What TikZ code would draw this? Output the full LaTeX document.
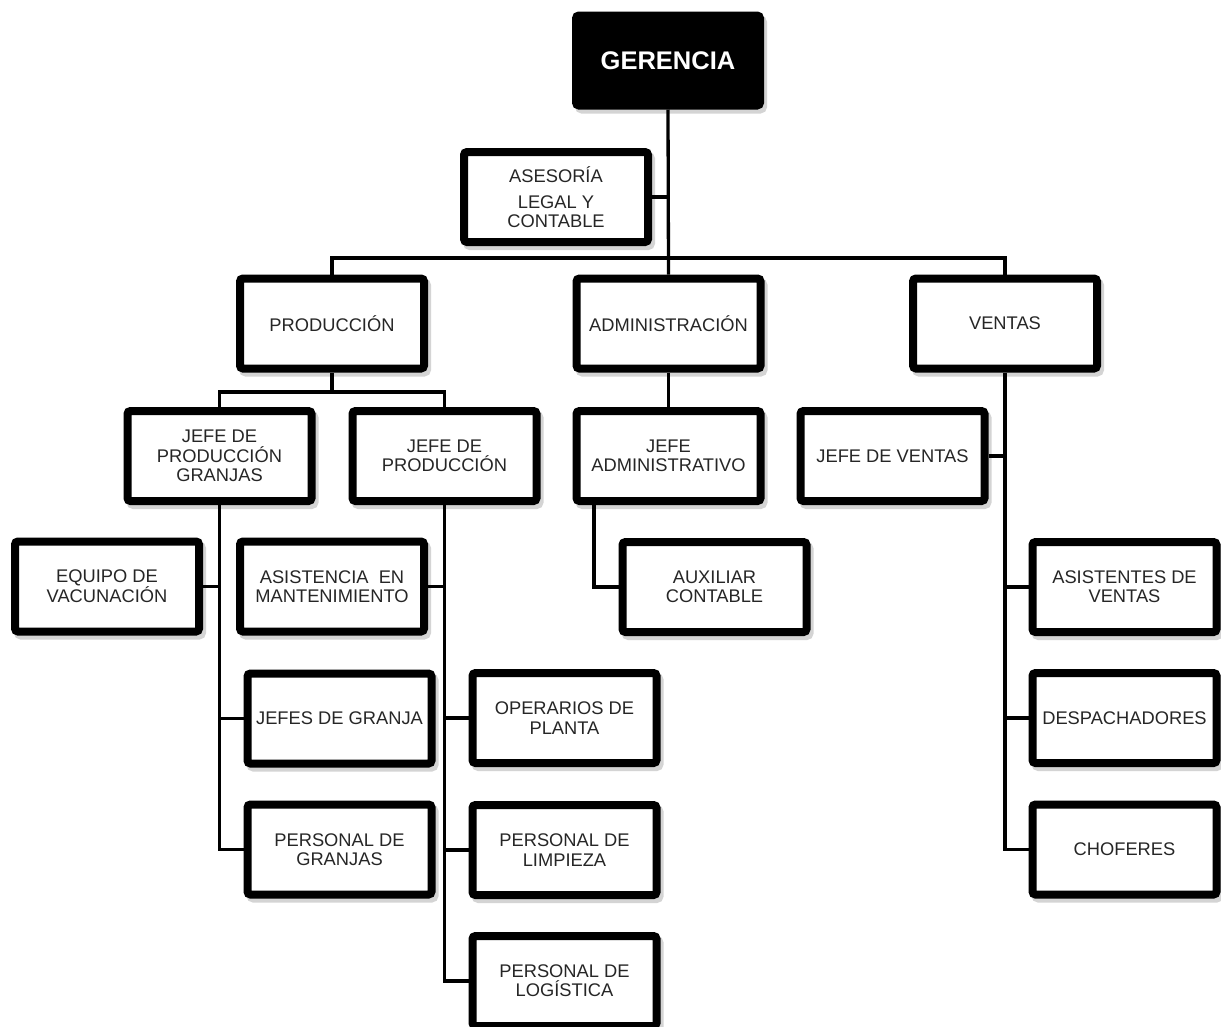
\documentclass[tikz,border=0pt]{standalone}
\usepackage{fontspec}
\setmainfont{Liberation Sans}
\usetikzlibrary{shadows}
\definecolor{txt}{gray}{0.15}
\tikzset{
  unit/.style={draw=black, fill=white, line width=8pt, rounded corners=3pt,
    minimum width=184pt, minimum height=90pt, inner sep=0pt, align=center,
    text=txt, font=\fontsize{18.3}{19.3}\selectfont,
    drop shadow={shadow xshift=3pt, shadow yshift=-4pt, opacity=1,
      fill=black!17, draw=black!17}},
  head/.style={unit, fill=black, text=white,
    font=\bfseries\fontsize{25.5}{28}\selectfont},
  link/.style={line width=3.3pt},
}
\begin{document}
\begin{tikzpicture}[x=1pt, y=-1pt]
\useasboundingbox[fill=white] (0,0) rectangle (1221,1026);

% top level
\node[head] (ger) at (668,60.5) {GERENCIA};
\node[unit] (ase) at (556,197) {ASESORÍA\\[7pt]LEGAL Y\\CONTABLE};

% departments
\node[unit] (prod) at (332,323.5) {PRODUCCIÓN};
\node[unit] (adm)  at (668.5,323.5) {ADMINISTRACIÓN};
\node[unit] (ven)  at (1005,323.5) {VENTAS};

% heads of area
\node[unit] (jpg) at (219.5,456) {JEFE DE\\PRODUCCIÓN\\GRANJAS};
\node[unit] (jp)  at (444.5,456) {JEFE DE\\PRODUCCIÓN};
\node[unit] (ja)  at (668.5,456) {JEFE\\ADMINISTRATIVO};
\node[unit] (jv)  at (892.5,456) {JEFE DE VENTAS};

% staff
\node[unit] (eq)   at (107,586.5)   {EQUIPO DE\\VACUNACIÓN};
\node[unit] (asis) at (332,586.5)   {ASISTENCIA\ \ EN\\MANTENIMIENTO};
\node[unit] (aux)  at (714.5,587)   {AUXILIAR\\CONTABLE};
\node[unit] (asv)  at (1124.5,587)  {ASISTENTES DE\\VENTAS};
\node[unit] (jg)   at (339.5,718.5) {JEFES DE GRANJA};
\node[unit] (pg)   at (339.5,849.5) {PERSONAL DE\\GRANJAS};
\node[unit] (op)   at (564.5,718)   {OPERARIOS DE\\PLANTA};
\node[unit] (pl)   at (564.5,850)   {PERSONAL DE\\LIMPIEZA};
\node[unit] (plog) at (564.5,981)   {PERSONAL DE\\LOGÍSTICA};
\node[unit] (desp) at (1124.5,718)  {DESPACHADORES};
\node[unit] (chof) at (1124.5,849.5){CHOFERES};

% connectors
\coordinate (bus) at (668,258);
\coordinate (pbus) at (332,392);
\draw[link] (ger.south) -- (adm.north);
\draw[link] (ase.east) -- (ase.east -| ger.south);
\draw[link] (prod.north) |- (bus) -| (ven.north);

\draw[link] (prod.south) -- (pbus);
\draw[link] (jpg.north) |- (pbus) -| (jp.north);

\draw[link] (jpg.south) |- (pg.west);
\draw[link] (eq.east) -- (eq.east -| jpg.south);
\draw[link] (jg.west) -- (jg.west -| jpg.south);

\draw[link] (jp.south) |- (plog.west);
\draw[link] (asis.east) -- (asis.east -| jp.south);
\draw[link] (op.west) -- (op.west -| jp.south);
\draw[link] (pl.west) -- (pl.west -| jp.south);

\draw[link] (adm.south) -- (ja.north);
\draw[link] ([xshift=-74.5pt]ja.south) |- (aux.west);

\draw[link] (ven.south) |- (chof.west);
\draw[link] (jv.east) -- (jv.east -| ven.south);
\draw[link] (asv.west) -- (asv.west -| ven.south);
\draw[link] (desp.west) -- (desp.west -| ven.south);
\end{tikzpicture}
\end{document}
